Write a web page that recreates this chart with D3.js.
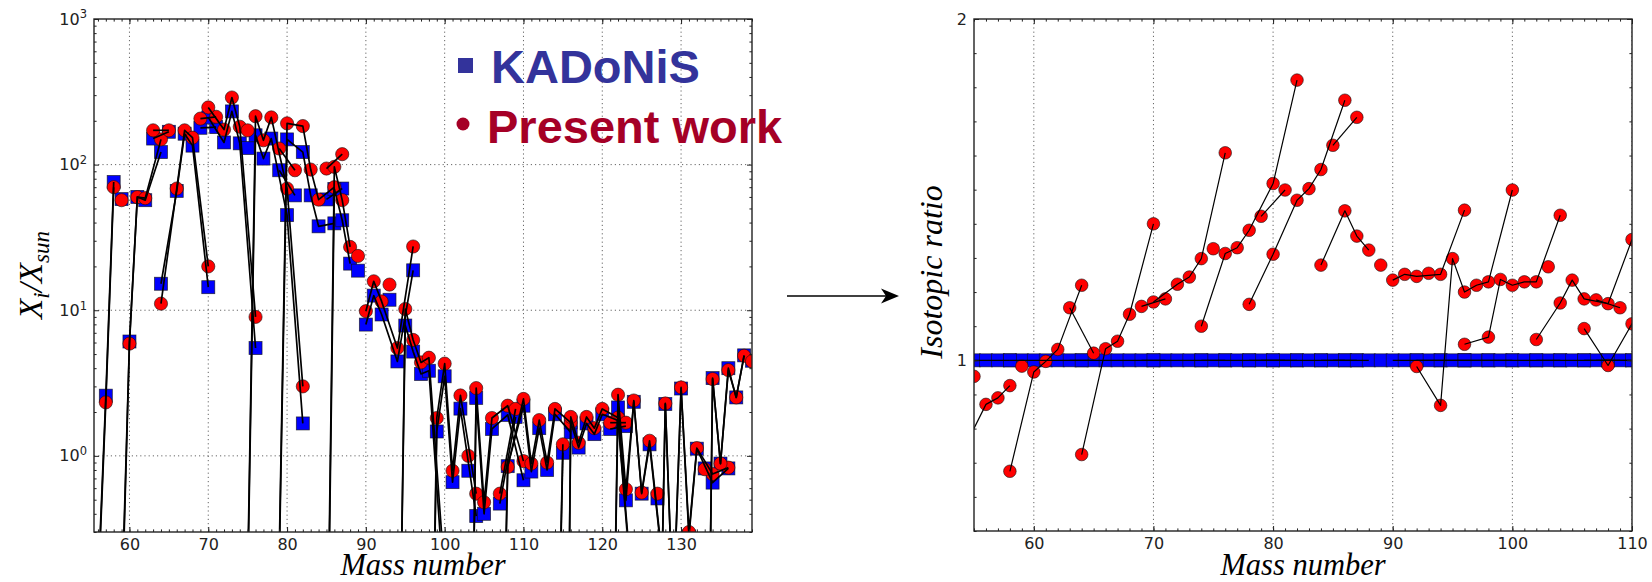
<!DOCTYPE html>
<html lang="en">
<head>
<meta charset="utf-8">
<title>KADoNiS vs present work</title>
<script src="https://cdn.jsdelivr.net/npm/d3@7"></script>
<style>
  body { margin: 0; background: #fff; }
</style>
</head>
<body>
<svg id="fig" width="1652" height="582"></svg>
<script>

// isotopes, grouped by element (lines join the isotopes of one element)
const isoElem = ["Mn","Fe","Fe","Fe","Fe","Co","Ni","Ni","Ni","Ni","Ni","Cu","Cu",
  "Zn","Zn","Zn","Zn","Zn","Ga","Ga","Ge","Ge","Ge","Ge","Ge","As",
  "Se","Se","Se","Se","Se","Se","Br","Br","Kr","Kr","Kr","Kr","Kr","Kr","Rb","Rb",
  "Sr","Sr","Sr","Sr","Y","Zr","Zr","Zr","Zr","Zr","Nb",
  "Mo","Mo","Mo","Mo","Mo","Mo","Mo","Ru","Ru","Ru","Ru","Ru","Ru","Ru","Rh",
  "Pd","Pd","Pd","Pd","Pd","Pd","Ag","Ag","Cd","Cd","Cd","Cd","Cd","Cd","Cd","Cd",
  "In","In","Sn","Sn","Sn","Sn","Sn","Sn","Sn","Sn","Sn","Sn","Sb","Sb",
  "Te","Te","Te","Te","Te","Te","Te","Te","I","Xe","Xe","Xe","Xe","Xe","Xe","Xe","Xe","Xe",
  "Cs","Ba","Ba","Ba","Ba","Ba","Ba","Ba","La"];

const isoMass = [55,54,56,57,58,59,58,60,61,62,64,63,65,
  64,66,67,68,70,69,71,70,72,73,74,76,75,
  74,76,77,78,80,82,79,81,78,80,82,83,84,86,85,87,
  84,86,87,88,89,90,91,92,94,96,93,
  92,94,95,96,97,98,100,96,98,99,100,101,102,104,103,
  102,104,105,106,108,110,107,109,106,108,110,111,112,113,114,116,
  113,115,112,114,115,116,117,118,119,120,122,124,121,123,
  120,122,123,124,125,126,128,130,127,124,126,128,129,130,131,132,134,136,
  133,130,132,134,135,136,137,138,139];

// X_i / X_sun, KADoNiS cross sections
const kadonis = [null,0.0009,0.125,2.59,76,58,0.0012,6.1,60,57,122,151,168,
  15.2,66,163,135,14.4,179,181,211,142,232,140,5.5,130,
  1e-4,159,110,151,45,1.67,91.5,61.5,2e-4,149,122,61.5,37.7,39.5,57.7,68.5,
  1e-6,68,41.5,20.9,18.7,7.97,12.6,9.35,4.45,18.8,11.8,
  0.001,0.0035,7.85,5.2,3.65,3.84,0.10,0.001,0.001,1.47,3.52,0.66,2.11,0.386,0.79,
  1e-7,2.5,0.40,1.53,1.91,0.68,0.47,1.85,1e-5,0.85,2.21,0.78,1.55,0.80,1.93,1.45,
  1e-5,1.05,1e-6,1e-6,1e-5,1.70,1.14,1.67,1.41,1.93,1.75,0.08,1.53,1.60,
  1e-6,2.15,0.495,2.35,0.55,1.20,0.12,1e-4,0.51,1e-6,1e-5,2.27,0.08,2.90,0.28,1.12,0.655,0.82,
  0.82,1e-8,1e-8,3.42,0.885,4.0,2.52,4.9,4.5];

// X_i / X_sun, present work
const present = [null,0.00066,0.11,2.33,70,57,0.0008,5.9,59.8,58.8,149,172,172,
  11.1,68.5,172,153,20,207,213,247,174,289,182,9.0,172,
  1.1e-4,215,147,211,68.5,3.0,129,91.5,2.3e-4,192,184,92.5,57.5,70,94,118,
  1.3e-6,96.5,57,27.2,23.6,9.85,15.8,11.5,5.5,27.4,15.0,
  0.001,0.003,10.2,6.25,4.38,4.72,0.15,0.00105,0.00107,1.82,4.3,0.79,2.6,0.55,1.0,
  1.06e-7,2.92,0.48,1.82,2.21,0.92,0.55,2.1,1.1e-5,0.84,2.46,0.885,1.76,0.90,2.1,1.69,
  1e-5,1.2,1e-6,1e-6,1e-5,1.85,1.23,1.85,1.55,2.1,1.83,0.09,1.69,1.69,
  1e-6,2.63,0.59,2.4,0.56,1.27,0.125,1e-4,0.55,1e-6,1e-5,2.29,0.08,2.95,0.30,1.13,0.75,0.83,
  0.81,1e-8,1e-8,3.37,0.885,3.88,2.52,4.87,4.46];

// isotopic ratio present / KADoNiS (right panel, up to A = 111)
const ratio = [0.953,0.73,0.871,0.89,0.926,0.983,0.675,0.966,0.997,1.032,1.22,1.154,1.021,
  0.724,1.034,1.056,1.135,1.40,1.158,1.18,1.171,1.223,1.244,1.298,1.608,1.327,
  1.10,1.313,1.33,1.381,1.518,1.821,1.422,1.499,1.164,1.311,1.469,1.503,1.559,1.762,1.63,1.712,
  1.279,1.438,1.364,1.323,1.279,1.235,1.252,1.246,1.252,1.44,1.255,
  0.982,0.868,1.298,1.20,1.22,1.23,1.499,1.047,1.068,1.237,1.22,1.23,1.23,1.425,1.274,
  1.061,1.168,1.235,1.18,1.166,1.354,1.177,1.154,1.093,0.985,1.107,1.13,null,null,null,null,
  null,null,null,null,null,null,null,null,null,null,null,null,null,null,
  null,null,null,null,null,null,null,null,null,null,null,null,null,null,null,null,null,null,
  null,null,null,null,null,null,null,null,null];

const xTicksLeft  = [60,70,80,90,100,110,120,130];
const yTicksLeft  = [1,10,100,1000];
const xTicksRight = [60,70,80,90,100,110];
const yTicksRight = [1,2];

const iso = isoMass.map((m, i) => ({el: isoElem[i], m: m, k: kadonis[i], p: present[i], r: ratio[i]}));

var svg = d3.select("#fig");

var boxL = {x0: 94, x1: 752, y0: 19, y1: 532},
    boxR = {x0: 974, x1: 1632, y0: 19, y1: 531};

var xL = d3.scaleLinear().domain([55.5, 139]).range([boxL.x0, boxL.x1]),
    yL = d3.scaleLog().domain([0.3, 1000]).range([boxL.y1, boxL.y0]),
    xR = d3.scaleLinear().domain([55, 110]).range([boxR.x0, boxR.x1]),
    yR = d3.scaleLinear().domain([0.5, 2]).range([boxR.y1, boxR.y0]);

var defs = svg.append("defs");
[["clipL", boxL], ["clipR", boxR]].forEach(([id, b]) => {
  defs.append("clipPath").attr("id", id).append("rect")
    .attr("x", b.x0).attr("y", b.y0).attr("width", b.x1 - b.x0).attr("height", b.y1 - b.y0);
});

function grid(g, x, y, box, xv, yv) {
  g.selectAll(".gx").data(xv).enter().append("line")
    .attr("x1", d => x(d)).attr("x2", d => x(d))
    .attr("y1", box.y0).attr("y2", box.y1);
  g.selectAll(".gy").data(yv).enter().append("line")
    .attr("x1", box.x0).attr("x2", box.x1)
    .attr("y1", d => y(d)).attr("y2", d => y(d));
  g.selectAll("line")
    .attr("stroke", "#666").attr("stroke-width", 1).attr("stroke-dasharray", "1.2,3");
}

function squares(g, pts, x, yf, size) {
  g.selectAll(null).data(pts).enter().append("rect")
    .attr("x", d => x(d.m) - size / 2).attr("y", d => yf(d) - size / 2)
    .attr("width", size).attr("height", size)
    .attr("fill", "#0000ff").attr("stroke", "#111").attr("stroke-opacity", 0.75).attr("stroke-width", 0.8);
}

function circles(g, pts, x, yf, r) {
  g.selectAll(null).data(pts).enter().append("circle")
    .attr("cx", d => x(d.m)).attr("cy", yf).attr("r", r)
    .attr("fill", "#ff0000").attr("stroke", "#111").attr("stroke-opacity", 0.75).attr("stroke-width", 0.8);
}

function chainLines(g, pts, x, yf, width) {
  var line = d3.line().x(d => x(d.m)).y(yf);
  d3.groups(pts, d => d.el).forEach(([el, c]) => {
    if (c.length < 2) return;
    g.append("path").datum(c).attr("d", line)
      .attr("fill", "none").attr("stroke", "#000").attr("stroke-width", width)
      .attr("stroke-linejoin", "round");
  });
}

function axes(x, y, box, xMajor, xMinor, yMajor, yMinor, yFmt) {
  var g = svg.append("g");
  var tx = [[d3.axisBottom, box.y1], [d3.axisTop, box.y0]];
  tx.forEach(([ax, pos], i) => {
    g.append("g").attr("transform", `translate(0,${pos})`)
      .call(ax(x).tickValues(xMinor).tickSize(-2.6).tickFormat(""));
    g.append("g").attr("transform", `translate(0,${pos})`).attr("class", i == 0 ? "xlab" : "")
      .call(ax(x).tickValues(xMajor).tickSize(-5).tickPadding(7).tickFormat(i == 0 ? d3.format("d") : ""));
  });
  var ty = [[d3.axisLeft, box.x0], [d3.axisRight, box.x1]];
  ty.forEach(([ax, pos], i) => {
    g.append("g").attr("transform", `translate(${pos},0)`)
      .call(ax(y).tickValues(yMinor).tickSize(-2.6).tickFormat(""));
    g.append("g").attr("transform", `translate(${pos},0)`).attr("class", i == 0 ? "ylab" : "")
      .call(ax(y).tickValues(yMajor).tickSize(-5).tickPadding(7).tickFormat(i == 0 ? yFmt : ""));
  });
  g.selectAll(".domain").remove();
  g.selectAll(".tick line").attr("stroke", "#222").attr("stroke-width", 1);
  g.selectAll("text").attr("font-family", "DejaVu Sans").attr("font-size", 16).attr("fill", "#222");
  g.append("rect")
    .attr("x", box.x0).attr("y", box.y0).attr("width", box.x1 - box.x0).attr("height", box.y1 - box.y0)
    .attr("fill", "none").attr("stroke", "#222").attr("stroke-width", 1.4);
  return g;
}

// ---------- left panel ----------
var ptsL = iso.filter(d => d.k != null);
var gL = svg.append("g").attr("clip-path", "url(#clipL)");
grid(gL.append("g"), xL, yL, boxL, xTicksLeft, [1, 10, 100]);
squares(gL.append("g"), ptsL, xL, d => yL(d.k), 13);
circles(gL.append("g"), ptsL, xL, d => yL(d.p), 6.6);
chainLines(gL.append("g"), ptsL, xL, d => yL(d.k), 1.7);
chainLines(gL.append("g"), ptsL, xL, d => yL(d.p), 1.7);

var minorL = [];
[0.1, 1, 10, 100].forEach(dec => { for (var j = 2; j <= 9; j++) if (j * dec >= 0.3) minorL.push(j * dec); });
var axL = axes(xL, yL, boxL, xTicksLeft, d3.range(56, 140), yTicksLeft, minorL, d => "10");
axL.selectAll(".ylab .tick text").append("tspan")
  .attr("dy", "-0.55em").attr("font-size", 11.5).text(d => Math.round(Math.log10(d)));

// ---------- right panel ----------
var ptsR = iso.filter(d => d.r != null);
var gR = svg.append("g").attr("clip-path", "url(#clipR)");
grid(gR.append("g"), xR, yR, boxR, xTicksRight, [1]);
squares(gR.append("g"), ptsR, xR, d => yR(1), 13);
circles(gR.append("g"), ptsR, xR, d => yR(d.r), 6.3);
chainLines(gR.append("g"), ptsR, xR, d => yR(1), 1.2);
chainLines(gR.append("g"), ptsR, xR, d => yR(d.r), 1.2);

axes(xR, yR, boxR, xTicksRight, d3.range(55, 111), yTicksRight,
  d3.range(5, 21).map(d => d / 10), d3.format("d"));

// ---------- labels ----------
var serif = "'Liberation Serif', 'DejaVu Serif', serif";
[[423, "Mass number"], [1303, "Mass number"]].forEach(([cx, t]) => {
  svg.append("text").attr("x", cx).attr("y", 575).attr("text-anchor", "middle")
    .attr("font-family", serif).attr("font-style", "italic").attr("font-size", 30.5).text(t);
});

var yl = svg.append("text").attr("transform", "translate(42,275) rotate(-90)")
  .attr("text-anchor", "middle").attr("font-family", serif).attr("font-style", "italic").attr("font-size", 33);
yl.append("tspan").text("X");
yl.append("tspan").attr("dy", 7).attr("font-size", 23).text("i");
yl.append("tspan").attr("dy", -7).text("/X");
yl.append("tspan").attr("dy", 7).attr("font-size", 23).text("sun");

svg.append("text").attr("transform", "translate(942,272) rotate(-90)")
  .attr("text-anchor", "middle").attr("font-family", serif).attr("font-style", "italic")
  .attr("font-size", 32).text("Isotopic ratio");

// legend
svg.append("rect").attr("x", 458).attr("y", 58).attr("width", 15).attr("height", 15).attr("fill", "#33339b");
svg.append("text").attr("x", 491).attr("y", 83).attr("font-family", "'Liberation Sans', Arial, sans-serif")
  .attr("font-weight", "bold").attr("font-size", 47).attr("fill", "#33339b").text("KADoNiS");
svg.append("circle").attr("cx", 463).attr("cy", 124).attr("r", 6.5).attr("fill", "#a50026");
svg.append("text").attr("x", 487).attr("y", 143).attr("font-family", "'Liberation Sans', Arial, sans-serif")
  .attr("font-weight", "bold").attr("font-size", 47).attr("fill", "#a50026").text("Present work");

// arrow between panels
svg.append("line").attr("x1", 787).attr("x2", 888).attr("y1", 296).attr("y2", 296)
  .attr("stroke", "#000").attr("stroke-width", 1.6);
svg.append("path").attr("d", "M899,296 L881,288.5 L886,296 L881,303.5 Z").attr("fill", "#000");

</script>
</body>
</html>
